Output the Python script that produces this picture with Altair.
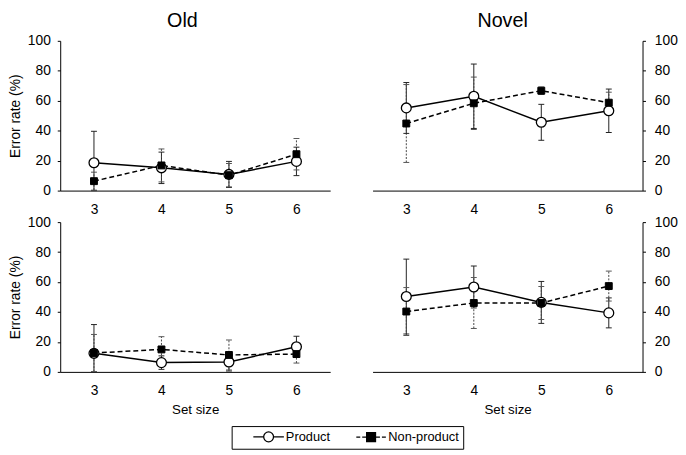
import altair as alt
import pandas as pd

FONT = "Liberation Sans"

set_sizes = [3, 4, 5, 6]
series_names = ["Product", "Non-product"]

# Old condition, upper row
old_a_product = [18.6, 15.2, 10.8, 19.5]
old_a_product_err = [21.0, 10.5, 8.7, 9.5]
old_a_nonproduct = [6.3, 16.8, 10.3, 24.3]
old_a_nonproduct_err = [6.0, 11.0, 7.8, 10.5]

# Novel condition, upper row
novel_a_product = [55.2, 63.0, 45.6, 53.3]
novel_a_product_err = [17.0, 21.5, 12.0, 14.5]
novel_a_nonproduct = [44.8, 58.3, 66.7, 58.7]
novel_a_nonproduct_err = [26.0, 17.5, 2.5, 7.0]

# Old condition, lower row
old_b_product = [12.4, 6.2, 6.6, 16.8]
old_b_product_err = [19.2, 4.5, 6.0, 7.0]
old_b_nonproduct = [12.6, 15.0, 11.3, 11.9]
old_b_nonproduct_err = [12.4, 8.5, 10.0, 6.0]

# Novel condition, lower row
novel_b_product = [50.3, 56.7, 46.4, 39.4]
novel_b_product_err = [25.0, 14.0, 14.0, 10.0]
novel_b_nonproduct = [40.3, 46.0, 46.0, 57.3]
novel_b_nonproduct_err = [16.0, 17.0, 11.0, 10.0]

rows = []


def add(cond, row, series, means, errs):
    for s, m, e in zip(set_sizes, means, errs):
        rows.append({"cond": cond, "row": row, "series": series,
                     "size": s, "mean": m, "err": e})


add("Old", "a", "Product", old_a_product, old_a_product_err)
add("Old", "a", "Non-product", old_a_nonproduct, old_a_nonproduct_err)
add("Novel", "a", "Product", novel_a_product, novel_a_product_err)
add("Novel", "a", "Non-product", novel_a_nonproduct, novel_a_nonproduct_err)
add("Old", "b", "Product", old_b_product, old_b_product_err)
add("Old", "b", "Non-product", old_b_nonproduct, old_b_nonproduct_err)
add("Novel", "b", "Product", novel_b_product, novel_b_product_err)
add("Novel", "b", "Non-product", novel_b_nonproduct, novel_b_nonproduct_err)

df = pd.DataFrame(rows)

# legend glyphs: line through marker (custom symbol paths, stroked only)
PROD_PATH = ("M-3.1,0H-1 M1,0H3.1 "
             "M1,0A1,1,0,1,1,-1,0A1,1,0,1,1,1,0Z")
NP_PATH = ("M-3.0,0H-2.2 M-1.8,0H-1.0 M1.0,0H1.8 M2.2,0H3.0 "
           "M-0.9,-0.9H0.9V0.9H-0.9Z M-0.7,-0.7H0.7V0.7H-0.7Z "
           "M-0.5,-0.5H0.5V0.5H-0.5Z M-0.3,-0.3H0.3V0.3H-0.3Z "
           "M-0.1,-0.1H0.1V0.1H-0.1Z")


def panel(cond, row, with_legend=False):
    left = cond == "Old"
    top = row == "a"
    base = alt.Chart(df).transform_filter(
        (alt.datum.cond == cond) & (alt.datum.row == row)
    ).transform_calculate(
        lo="max(0, datum.mean - datum.err)",
        hi="min(100, datum.mean + datum.err)",
    )
    xax = dict(values=set_sizes, ticks=False, tickSize=0, labelPadding=12,
               grid=False, domainColor="black", domainWidth=1,
               labelFontSize=14, labelColor="black", labelFont=FONT)
    if top:
        xax["title"] = None
    else:
        xax.update(title="Set size", titleFontSize=13.5, titleFontWeight="normal",
                   titlePadding=5, titleFont=FONT, titleColor="black")
    xaxis = alt.Axis(**xax)
    xscale = alt.Scale(domain=[2.5, 6.5], nice=False, zero=False)

    yax = dict(values=[0, 20, 40, 60, 80, 100], orient="left" if left else "right",
               tickSize=3, tickColor="black", domainColor="black", domainWidth=1,
               labelFontSize=14, labelPadding=7 if left else 9, grid=False,
               labelColor="black", labelFont=FONT)
    if left:
        yax.update(title="Error rate (%)", titleFontSize=14, titleFontWeight="normal",
                   titlePadding=5, titleFont=FONT, titleColor="black")
    else:
        yax["title"] = None
    yaxis = alt.Axis(**yax)
    yscale = alt.Scale(domain=[0, 100], nice=False, zero=True)

    X = alt.X("size:Q", scale=xscale, axis=xaxis)

    def Y(f):
        return alt.Y(f, scale=yscale, axis=yaxis)

    prod = base.transform_filter(alt.datum.series == "Product")
    nonp = base.transform_filter(alt.datum.series == "Non-product")

    prod_rule = prod.mark_rule(color="#222", strokeWidth=1).encode(
        x=X, y=Y("lo:Q"), y2="hi:Q")
    prod_caps = prod.transform_fold(["lo", "hi"], as_=["end", "val"]).mark_tick(
        orient="horizontal", size=6, thickness=1, color="#222", opacity=1
    ).encode(x=X, y=Y("val:Q"))
    np_rule = nonp.mark_rule(color="#444", strokeWidth=1, strokeDash=[2, 1.5]).encode(
        x=X, y=Y("lo:Q"), y2="hi:Q")
    np_caps = nonp.transform_fold(["lo", "hi"], as_=["end", "val"]).mark_tick(
        orient="horizontal", size=6, thickness=1, color="#555", opacity=1
    ).encode(x=X, y=Y("val:Q"))

    prod_line = prod.mark_line(color="black", strokeWidth=1.5).encode(x=X, y=Y("mean:Q"))
    np_line = nonp.mark_line(color="black", strokeWidth=1.5, strokeDash=[5, 3]).encode(
        x=X, y=Y("mean:Q"))
    prod_pts = prod.mark_point(shape="circle", filled=True, fill="white", stroke="black",
                               strokeWidth=1.3, size=100, opacity=1).encode(
        x=X, y=Y("mean:Q"))
    np_pts = nonp.mark_point(shape="square", filled=True, fill="black", stroke="black",
                             strokeWidth=1, size=49, opacity=1).encode(
        x=X, y=Y("mean:Q"))

    layers = [prod_rule, np_rule, prod_caps, np_caps, prod_line, np_line, prod_pts, np_pts]

    if with_legend:
        leg = alt.Chart(df).transform_filter("false").mark_point(
            filled=False, color="black", strokeWidth=1.3, opacity=1
        ).encode(
            shape=alt.Shape(
                "series:N",
                scale=alt.Scale(domain=series_names, range=[PROD_PATH, NP_PATH]),
                legend=alt.Legend(
                    orient="none", legendX=174, legendY=391, direction="horizontal",
                    title=None, labelFontSize=13, labelFont=FONT, labelColor="black",
                    symbolOffset=27, labelOffset=11, columnPadding=8, padding=4,
                    strokeColor="black", symbolSize=100, symbolStrokeWidth=1.3,
                    symbolOpacity=1,
                ),
            )
        )
        layers.append(leg)

    ch = alt.layer(*layers).properties(width=274, height=152)
    if top:
        ch = ch.properties(title=alt.TitleParams(
            cond, fontSize=20, font=FONT, fontWeight="normal", color="black",
            dx=-13 if left else -5, offset=3))
    return ch


chart = alt.concat(
    panel("Old", "a"), panel("Novel", "a"),
    panel("Old", "b", with_legend=True), panel("Novel", "b"),
    columns=2, spacing={"row": 32, "column": 43},
).properties(bounds="flush", padding=0).configure(font=FONT).configure_view(stroke=None)

chart.save("out.html", embed_options={"renderer": "svg", "actions": False})
